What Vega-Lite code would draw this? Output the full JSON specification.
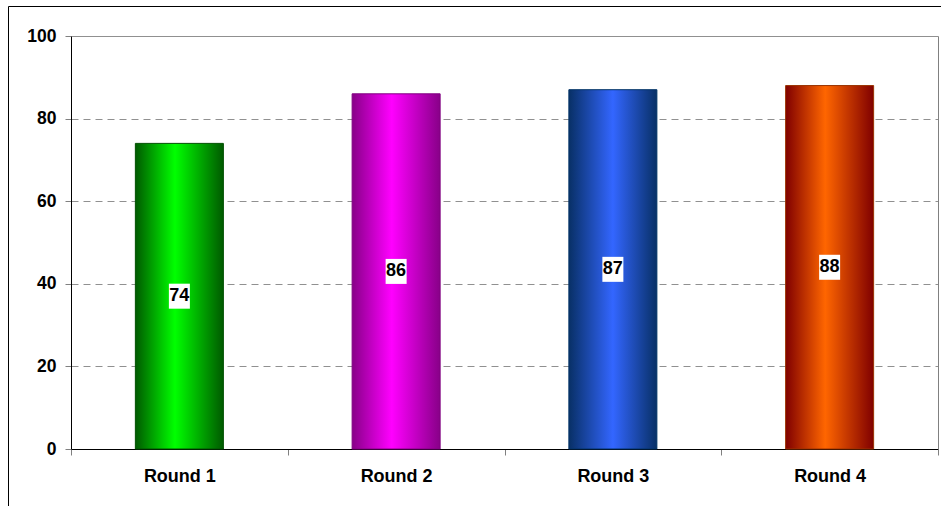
{
  "$schema": "https://vega.github.io/schema/vega-lite/v6.json",
  "width": 934,
  "height": 501,
  "autosize": "none",
  "padding": {"left": 8, "top": 6, "right": 0, "bottom": 0},
  "background": "white",
  "config": {
    "font": "Liberation Sans",
    "view": {"stroke": "black", "strokeWidth": 1, "fill": "white"}
  },
  "data": {
    "values": [
      {"round": "Round 1", "score": 74},
      {"round": "Round 2", "score": 86},
      {"round": "Round 3", "score": 87},
      {"round": "Round 4", "score": 88}
    ]
  },
  "resolve": {"scale": {"y": "independent"}, "axis": {"y": "independent"}},
  "layer": [
    {
      "encoding": {
        "x": {
          "field": "round",
          "type": "nominal",
          "scale": {"type": "band", "range": [63, 930], "paddingInner": 0, "paddingOuter": 0},
          "axis": {
            "orient": "bottom",
            "offset": -58,
            "title": null,
            "labelAngle": 0,
            "tickBand": "extent",
            "tickSize": 6,
            "tickColor": "#808080",
            "domainColor": "black",
            "labelFont": "Liberation Sans",
            "labelFontSize": 18,
            "labelFontWeight": "bold",
            "labelColor": "black",
            "labelPadding": 12,
            "grid": false
          }
        },
        "y": {
          "field": "score",
          "type": "quantitative",
          "scale": {"domain": [0, 100], "range": [443, 30], "nice": false},
          "axis": {
            "orient": "left",
            "offset": -63,
            "title": null,
            "values": [0, 20, 40, 60, 80, 100],
            "tickSize": 6,
            "tickColor": "#808080",
            "domainColor": "black",
            "labelFont": "Liberation Sans",
            "labelFontSize": 17.5,
            "labelFontWeight": "bold",
            "labelColor": "black",
            "labelPadding": 9,
            "grid": true,
            "gridColor": "#909090",
            "gridDash": {"condition": {"test": "datum.value === 100", "value": []}, "value": [7, 5]}
          }
        }
      },
      "layer": [
        {
          "transform": [{"filter": "datum.round === 'Round 1'"}],
          "mark": {
            "type": "bar",
            "width": {"band": 0.406},
            "stroke": "#005000",
            "strokeWidth": 1,
            "fill": {
              "gradient": "linear", "x1": 0, "y1": 0, "x2": 1, "y2": 0,
              "stops": [
                {"offset": 0, "color": "#005a00"},
                {"offset": 0.45, "color": "#00ff00"},
                {"offset": 1, "color": "#005a00"}
              ]
            }
          }
        },
        {
          "transform": [{"filter": "datum.round === 'Round 2'"}],
          "mark": {
            "type": "bar",
            "width": {"band": 0.406},
            "stroke": "#800080",
            "strokeWidth": 1,
            "fill": {
              "gradient": "linear", "x1": 0, "y1": 0, "x2": 1, "y2": 0,
              "stops": [
                {"offset": 0, "color": "#880088"},
                {"offset": 0.45, "color": "#ff00ff"},
                {"offset": 1, "color": "#880088"}
              ]
            }
          }
        },
        {
          "transform": [{"filter": "datum.round === 'Round 3'"}],
          "mark": {
            "type": "bar",
            "width": {"band": 0.406},
            "stroke": "#003366",
            "strokeWidth": 1,
            "fill": {
              "gradient": "linear", "x1": 0, "y1": 0, "x2": 1, "y2": 0,
              "stops": [
                {"offset": 0, "color": "#083066"},
                {"offset": 0.5, "color": "#3366ff"},
                {"offset": 1, "color": "#083066"}
              ]
            }
          }
        },
        {
          "transform": [{"filter": "datum.round === 'Round 4'"}],
          "mark": {
            "type": "bar",
            "width": {"band": 0.406},
            "stroke": "#993300",
            "strokeWidth": 1,
            "fill": {
              "gradient": "linear", "x1": 0, "y1": 0, "x2": 1, "y2": 0,
              "stops": [
                {"offset": 0, "color": "#800000"},
                {"offset": 0.45, "color": "#ff6600"},
                {"offset": 1, "color": "#800000"}
              ]
            }
          }
        }
      ]
    },
    {
      "encoding": {
        "x": {"field": "round", "type": "nominal"},
        "y": {
          "field": "score",
          "type": "quantitative",
          "scale": {"domain": [0, 200], "range": [443, 30], "nice": false},
          "axis": {
            "orient": "right",
            "offset": -4,
            "title": null,
            "ticks": false,
            "labels": false,
            "grid": false,
            "domainColor": "#808080"
          }
        }
      },
      "layer": [
        {
          "mark": {
            "type": "point",
            "shape": "M-0.84,-1H0.84V1H-0.84Z",
            "size": 625,
            "filled": true,
            "fill": "white",
            "opacity": 1,
            "strokeWidth": 0
          }
        },
        {
          "mark": {
            "type": "text",
            "font": "Liberation Sans",
            "fontSize": 18,
            "fontWeight": "bold",
            "color": "black",
            "align": "center",
            "baseline": "middle"
          },
          "encoding": {"text": {"field": "score", "type": "quantitative"}}
        }
      ]
    }
  ]
}
